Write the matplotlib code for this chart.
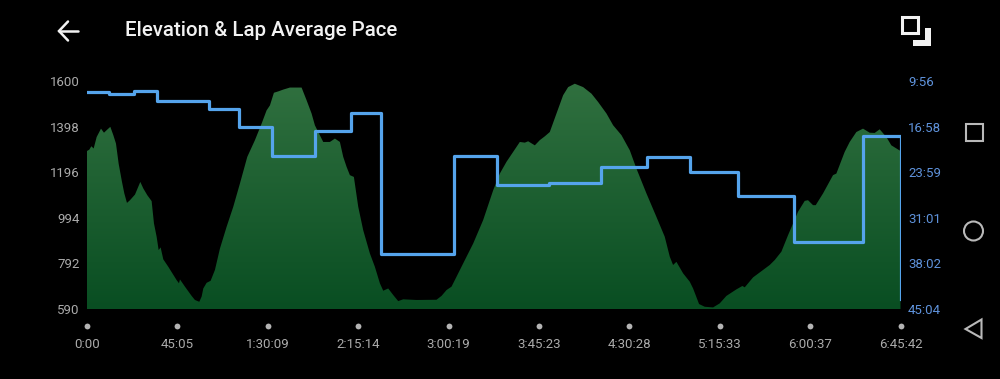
import matplotlib
matplotlib.use("Agg")
import numpy as np
import matplotlib.pyplot as plt
from matplotlib.colors import LinearSegmentedColormap
from matplotlib.patches import Polygon, Rectangle, Circle

plt.rcParams['font.family'] = ['Roboto', 'DejaVu Sans']

TITLE = "Elevation & Lap Average Pace"
time_labels = ["0:00", "45:05", "1:30:09", "2:15:14", "3:00:19", "3:45:23",
               "4:30:28", "5:15:33", "6:00:37", "6:45:42"]
elev_ticks = [590, 792, 994, 1196, 1398, 1600]
pace_labels = ["9:56", "16:58", "23:59", "31:01", "38:02", "45:04"]

elev_time = [0, 70, 130, 199, 289, 419, 508, 608, 698, 788, 867, 947, 1047, 1117, 1196, 1286,
             1436, 1595, 1685, 1805, 1934, 2004, 2084, 2144, 2203, 2283, 2433, 2682, 2752, 2782,
             2931, 3131, 3230, 3360, 3430, 3480, 3579, 3699, 3828, 3978, 4177, 4377, 4576, 4796,
             5025, 5224, 5374, 5474, 5593, 5723, 5872, 6072, 6421, 6570, 6720, 6819, 6919, 7069,
             7268, 7418, 7567, 7667, 7767, 7866, 7986, 8116, 8265, 8465, 8614, 8764, 8864, 9013,
             9163, 9312, 9462, 9860, 10458, 10608, 10758, 10907, 11057, 11256, 11555, 11854,
             12154, 12353, 12552, 12752, 12951, 13101, 13200, 13400, 13549, 13699, 13848, 14048,
             14247, 14397, 14596, 14846, 15095, 15294, 15544, 15743, 15993, 16242, 16441, 16740,
             17039, 17288, 17438, 17537, 17637, 17837, 18036, 18136, 18315, 18484, 18734, 18933,
             19132, 19432, 19611, 19681, 19930, 20429, 20579, 20778, 20977, 21127, 21276, 21476,
             21575, 21725, 21805, 22024, 22323, 22423, 22672, 22822, 23021, 23220, 23420, 23569,
             23719, 23918, 24068, 24342]
elevation = [1290, 1296, 1311, 1301, 1352, 1389, 1371, 1385, 1397, 1360, 1323, 1234, 1153, 1102,
             1060, 1072, 1097, 1153, 1124, 1094, 1068, 969, 910, 851, 863, 810, 777, 718, 704, 721,
             689, 648, 630, 622, 645, 681, 706, 715, 763, 858, 954, 1043, 1146, 1264, 1338, 1411,
             1470, 1492, 1548, 1554, 1562, 1571, 1571, 1515, 1456, 1404, 1374, 1330, 1330, 1345,
             1330, 1264, 1220, 1183, 1175, 1043, 939, 836, 777, 704, 671, 681, 652, 625, 633, 630,
             631, 648, 674, 689, 733, 792, 880, 984, 1116, 1190, 1242, 1286, 1330, 1327, 1333,
             1315, 1338, 1355, 1374, 1456, 1537, 1573, 1588, 1573, 1544, 1507, 1456, 1404, 1360,
             1293, 1212, 1102, 998, 910, 822, 785, 799, 748, 711, 681, 612, 600, 597, 615, 648,
             677, 692, 686, 730, 785, 807, 844, 917, 969, 1021, 1069, 1072, 1050, 1050, 1102, 1183,
             1190, 1286, 1330, 1374, 1389, 1371, 1370, 1386, 1352, 1315, 1290]

lap_edges = [0, 668, 1406, 2104, 3649, 4536, 5543, 6819, 7886, 8784, 10977, 12273, 13828,
             15374, 16750, 18056, 19481, 21147, 23230, 24342]
lap_pace = [698, 719, 691, 781, 858, 1024, 1288, 1061, 891, 2196, 1291, 1556, 1541, 1390,
            1298, 1439, 1658, 2082, 1104, 2611]


def hms(s):
    t = 0
    for p in s.split(":"):
        t = t * 60 + int(p)
    return t


time_ticks = [hms(s) for s in time_labels]
pace_ticks = [hms(s) for s in pace_labels]

BG = "black"
GREY = "#ababab"
BLUE = "#55a4ec"
BLUE_TXT = "#5f93dc"
WHITE = "#f2f2f2"

fig = plt.figure(figsize=(10, 3.79), dpi=100, facecolor=BG)
ax = fig.add_axes([87 / 1000, 70 / 379, 813.5 / 1000, 228 / 379], facecolor=BG)

cmap = LinearSegmentedColormap.from_list("g", ["#094e22", "#30703f"])
grad = np.linspace(1, 0, 256).reshape(-1, 1)
im = ax.imshow(grad, cmap=cmap, aspect="auto", zorder=1,
               extent=[time_ticks[0], time_ticks[-1], elev_ticks[0], max(elevation)])
poly = ax.fill_between(elev_time, elev_ticks[0], elevation, color="none", lw=0)
im.set_clip_path(poly.get_paths()[0], transform=ax.transData)
ax.set_xlim(time_ticks[0], time_ticks[-1])
ax.set_ylim(elev_ticks[0], elev_ticks[-1])

ax.set_yticks(elev_ticks)
ax.set_yticklabels([str(v) for v in elev_ticks])
ax.set_xticks(time_ticks)
ax.set_xticklabels(time_labels)
ax.tick_params(axis="y", length=0, pad=5.2, labelcolor=GREY, labelsize=9.5)
ax.tick_params(axis="x", length=0, pad=21, labelcolor=GREY, labelsize=9.5)
for s in ax.spines.values():
    s.set_visible(False)

ax.plot(time_ticks, [-0.0746] * len(time_ticks), ls="none", marker="o", ms=4.2,
        color="#b4b4b4", mew=0, clip_on=False, transform=ax.get_xaxis_transform())

ax2 = ax.twinx()
ax2.set_ylim(pace_ticks[-1], pace_ticks[0])
ax2.set_yticks(pace_ticks)
ax2.set_yticklabels(pace_labels)
ax2.tick_params(axis="y", length=0, pad=5.4, labelcolor=BLUE_TXT, labelsize=9.5)
for s in ax2.spines.values():
    s.set_visible(False)
ax2.step(lap_edges, lap_pace, where="post", color=BLUE, lw=2.3, solid_joinstyle="round")

# app chrome in pixel coordinates
ui = fig.add_axes([0, 0, 1, 1], facecolor="none", zorder=5)
ui.set_xlim(0, 1000)
ui.set_ylim(379, 0)
ui.axis("off")
ui.text(125, 31, TITLE, color=WHITE, fontsize=14.75, fontweight="medium", va="center", ha="left")
ui.plot([59, 78], [31, 31], color=WHITE, lw=1.8, solid_capstyle="round")
ui.plot([68, 59, 68], [21.5, 31, 40.5], color=WHITE, lw=1.8, solid_capstyle="round", solid_joinstyle="miter")
ui.add_patch(Rectangle((901.5, 16.5), 16.5, 16.5, fc="none", ec=WHITE, lw=2.2))
ui.add_patch(Polygon([(924.5, 27.5), (931, 27.5), (931, 46), (912.5, 46), (912.5, 39.5), (924.5, 39.5)],
                     closed=True, fc=WHITE, ec="none"))
NAV = "#b9b9b9"
ui.add_patch(Rectangle((965.5, 123.5), 17, 17, fc="none", ec=NAV, lw=1.5))
ui.add_patch(Circle((973.5, 231), 9.5, fc="none", ec=NAV, lw=1.5))
ui.add_patch(Polygon([(965.5, 329), (981.5, 319.5), (981.5, 338)], closed=True, fc="none", ec=NAV, lw=1.5))

fig.savefig("out.png", dpi=100, facecolor=BG)
